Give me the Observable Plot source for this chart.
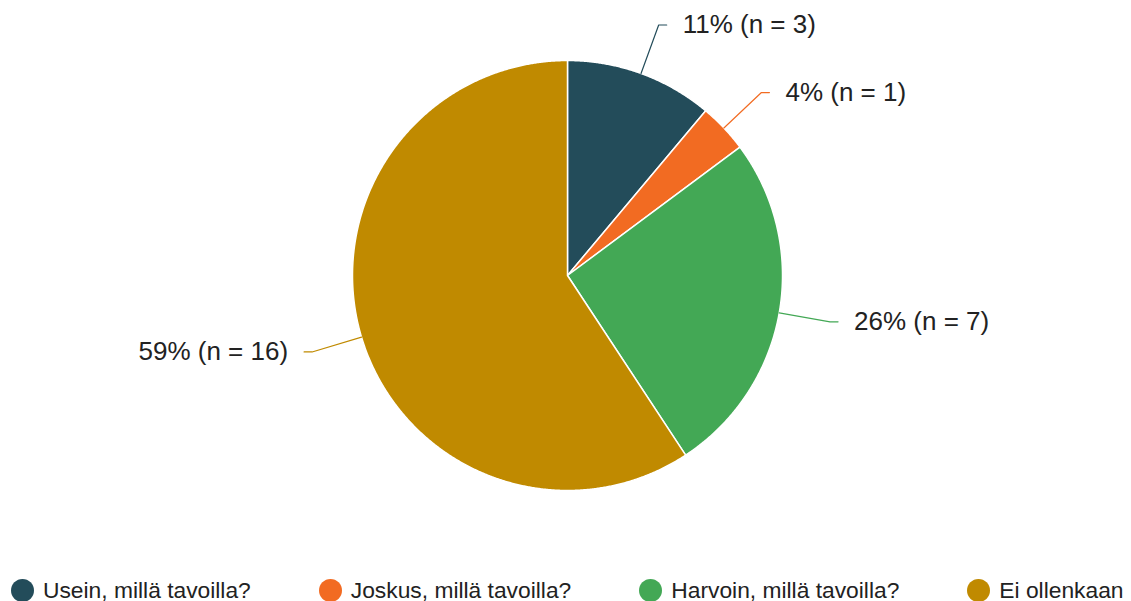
<!DOCTYPE html>
<html>
<head>
<meta charset="utf-8">
<script src="https://cdn.jsdelivr.net/npm/d3@7"></script>
<script src="https://cdn.jsdelivr.net/npm/@observablehq/plot@0.6"></script>
<style>
  html, body { margin: 0; padding: 0; overflow: hidden; background: #fff; }
  body { width: 1131px; height: 601px; font-family: "Liberation Sans", Arial, sans-serif; }
  #legend { display: flex; gap: 68px; padding-left: 11px; height: 27px; align-items: center; }
  .item { display: flex; align-items: center; font-size: 22.8px; color: #222; white-space: nowrap; }
  .sw { width: 23px; height: 23px; border-radius: 50%; margin-right: 9px; flex: none; }
</style>
</head>
<body>
<div id="chart"></div>
<div id="legend"></div>
<script>
// Data
const categories = ["Usein, millä tavoilla?", "Joskus, millä tavoilla?", "Harvoin, millä tavoilla?", "Ei ollenkaan"];
const counts = [3, 1, 7, 16];
const percents = [11, 4, 26, 59];
const colors = ["#234c5a", "#f26b22", "#43a855", "#c08a00"];

// Layout
const W = 1131, H = 577;
const cx = 567, cy = 275, r = 215;

const arcs = d3.pie().sort(null).value(d => d)(counts);

function pt(a, rad) { return {x: cx + rad * Math.sin(a), y: cy - rad * Math.cos(a)}; }

const slices = arcs.map((a, i) => {
  const pts = [{x: cx, y: cy}];
  const n = Math.max(2, Math.ceil((a.endAngle - a.startAngle) / 0.005));
  for (let k = 0; k <= n; k++) {
    const ang = a.startAngle + (a.endAngle - a.startAngle) * k / n;
    pts.push(pt(ang, r));
  }
  return pts;
});

const labels = arcs.map((a, i) => {
  const mid = (a.startAngle + a.endAngle) / 2;
  const right = Math.sin(mid) >= 0;
  const s = pt(mid, r);
  const e = pt(mid, r * 1.24);
  const tail = {x: e.x + (right ? 8 : -8), y: e.y};
  return {
    cat: categories[i], color: colors[i], right,
    line: [s, e, tail],
    lx: tail.x + (right ? 16 : -16), ly: tail.y,
    text: `${percents[i]}% (n = ${counts[i]})`
  };
});

const marks = [];
slices.forEach((pts, i) => {
  marks.push(Plot.line(pts, {x: "x", y: "y", curve: "linear-closed", fill: colors[i], stroke: "white", strokeWidth: 1.5}));
});
labels.forEach(l => {
  marks.push(Plot.line(l.line, {x: "x", y: "y", stroke: l.color, strokeWidth: 1.2}));
});
marks.push(Plot.text(labels.filter(l => l.right), {x: "lx", y: "ly", text: "text", textAnchor: "start", fontSize: 26, fill: "#222", lineAnchor: "middle"}));
marks.push(Plot.text(labels.filter(l => !l.right), {x: "lx", y: "ly", text: "text", textAnchor: "end", fontSize: 26, fill: "#222", lineAnchor: "middle"}));

const chart = Plot.plot({
  width: W, height: H,
  margin: 0,
  style: {fontFamily: "'Liberation Sans', Arial, sans-serif", background: "white", overflow: "visible"},
  x: {domain: [0, W], range: [0, W], axis: null},
  y: {domain: [0, H], range: [0, H], axis: null},
  marks
});
document.getElementById("chart").appendChild(chart);

const legend = document.getElementById("legend");
categories.forEach((c, i) => {
  const item = document.createElement("div");
  item.className = "item";
  const sw = document.createElement("span");
  sw.className = "sw";
  sw.style.background = colors[i];
  item.appendChild(sw);
  item.appendChild(document.createTextNode(c));
  legend.appendChild(item);
});
</script>
</body>
</html>
